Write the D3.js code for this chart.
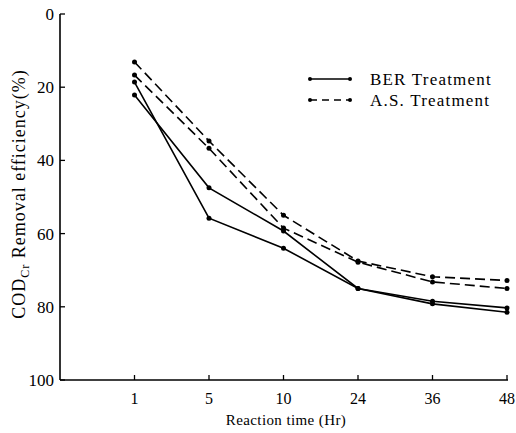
<!DOCTYPE html>
<html>
<head>
<meta charset="utf-8">
<script src="https://cdn.jsdelivr.net/npm/d3@7"></script>
<style>
  body { margin: 0; background: #fff; }
  text { font-family: "Liberation Serif", "DejaVu Serif", serif; fill: #000; }
</style>
</head>
<body>
<div id="viz"></div>
<script>
const times = ["1", "5", "10", "24", "36", "48"];
const yTicks = [0, 20, 40, 60, 80, 100];

// COD removal efficiency (%)
const berA = [18.6, 55.8, 64.0, 75.0, 78.5, 80.3];
const berB = [22.1, 47.5, 59.3, 75.0, 79.2, 81.5];
const asA = [13.1, 34.7, 55.0, 67.5, 71.8, 72.8];
const asB = [16.7, 36.7, 58.5, 67.8, 73.2, 75.0];

const series = [
    { name: "BER Treatment", values: berA, dash: null },
    { name: "BER Treatment", values: berB, dash: null },
    { name: "A.S. Treatment", values: asA, dash: "10,5" },
    { name: "A.S. Treatment", values: asB, dash: "10,5" }
];

const width = 516;
const height = 433;
const margin = { left: 60, right: 9, top: 14, bottom: 53 };

const svg = d3.select("#viz").append("svg")
    .attr("width", width)
    .attr("height", height);

const xStep = (width - margin.right - margin.left) / times.length;
const xScale = d3.scalePoint()
    .domain(times)
    .range([margin.left + xStep, width - margin.right]);

const yScale = d3.scaleLinear()
    .domain([0, 100])
    .range([margin.top, height - margin.bottom]);

// axes
const xAxis = svg.append("g")
    .attr("transform", `translate(0,${height - margin.bottom})`);
xAxis.append("line")
    .attr("x1", margin.left).attr("x2", width - margin.right + 1)
    .attr("stroke", "#000").attr("stroke-width", 1.6);
xAxis.selectAll(".xtick")
    .data(times)
    .join("line")
        .attr("class", "xtick")
        .attr("x1", d => xScale(d)).attr("x2", d => xScale(d))
        .attr("y1", 0).attr("y2", -5)
        .attr("stroke", "#000").attr("stroke-width", 1.3);
xAxis.selectAll(".xlabel")
    .data(times)
    .join("text")
        .attr("class", "xlabel")
        .attr("x", d => xScale(d))
        .attr("y", 24)
        .attr("text-anchor", "middle")
        .style("font-size", "16px")
        .text(d => d);

svg.append("text")
    .attr("x", 286)
    .attr("y", 425)
    .attr("text-anchor", "middle")
    .style("font-size", "15px")
    .style("letter-spacing", "0.4px")
    .text("Reaction time (Hr)");

const yAxis = svg.append("g");
yAxis.append("line")
    .attr("x1", margin.left).attr("x2", margin.left)
    .attr("y1", margin.top).attr("y2", height - margin.bottom)
    .attr("stroke", "#000").attr("stroke-width", 1.6);
yAxis.selectAll(".ytick")
    .data(yTicks)
    .join("line")
        .attr("class", "ytick")
        .attr("x1", margin.left).attr("x2", margin.left + 5)
        .attr("y1", d => yScale(d)).attr("y2", d => yScale(d))
        .attr("stroke", "#000").attr("stroke-width", 1.3);
yAxis.selectAll(".ylabel")
    .data(yTicks)
    .join("text")
        .attr("class", "ylabel")
        .attr("x", margin.left - 6)
        .attr("y", d => yScale(d) + 6)
        .attr("text-anchor", "end")
        .style("font-size", "17px")
        .text(d => d);

const yTitle = svg.append("text")
    .attr("transform", `translate(25,${(margin.top + height - margin.bottom) / 2 - 3}) rotate(-90)`)
    .attr("text-anchor", "middle")
    .style("font-size", "18px")
    .style("letter-spacing", "1px");
yTitle.append("tspan").text("COD");
yTitle.append("tspan").attr("dy", 4).style("font-size", "12px").text("Cr");
yTitle.append("tspan").attr("dy", -4).text(" Removal efficiency(%)");

// lines
const line = d3.line()
    .x((d, i) => xScale(times[i]))
    .y(d => yScale(d));

const gSeries = svg.selectAll(".series")
    .data(series)
    .join("g")
        .attr("class", "series");

gSeries.append("path")
    .attr("d", d => line(d.values))
    .attr("fill", "none")
    .attr("stroke", "#000")
    .attr("stroke-width", 1.6)
    .attr("stroke-dasharray", d => d.dash);

gSeries.selectAll("circle")
    .data(d => d.values)
    .join("circle")
        .attr("cx", (d, i) => xScale(times[i]))
        .attr("cy", d => yScale(d))
        .attr("r", 2.5)
        .attr("fill", "#000");

// legend
const legendItems = [
    { name: "BER Treatment", dash: null },
    { name: "A.S. Treatment", dash: "7,5" }
];
const legend = svg.selectAll(".legend")
    .data(legendItems)
    .join("g")
        .attr("class", "legend")
        .attr("transform", (d, i) => `translate(310,${79 + i * 21})`);
legend.append("line")
    .attr("x1", 0).attr("x2", 40)
    .attr("stroke", "#000").attr("stroke-width", 1.5)
    .attr("stroke-dasharray", d => d.dash);
legend.selectAll("circle")
    .data([0, 40])
    .join("circle")
        .attr("cx", d => d).attr("cy", 0).attr("r", 2)
        .attr("fill", "#000");
legend.append("text")
    .attr("x", 60)
    .attr("y", 6)
    .style("font-size", "17px")
    .style("letter-spacing", "1.2px")
    .text(d => d.name);
</script>
</body>
</html>
